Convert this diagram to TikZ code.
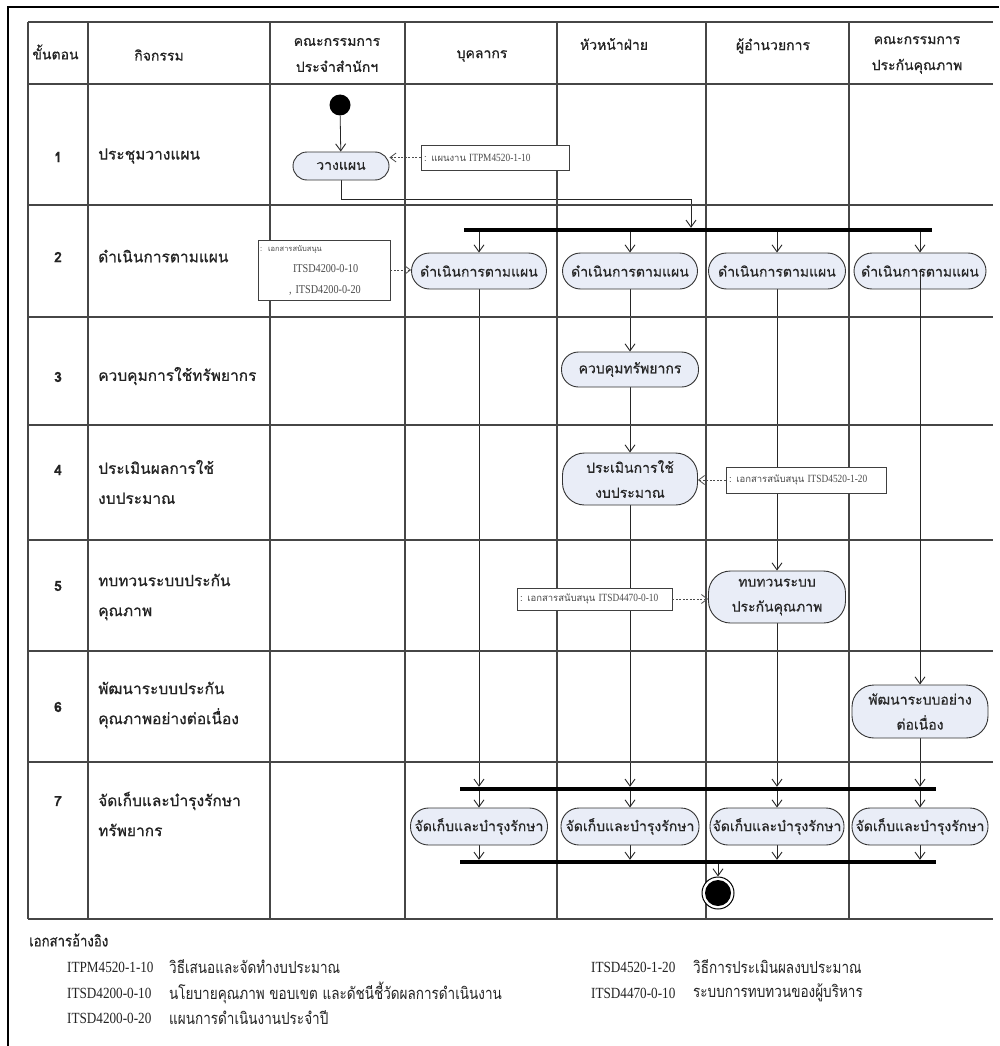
\documentclass[tikz,border=0pt]{standalone}
\usepackage{fontspec}
\setmainfont{Liberation Serif}
\newfontfamily\thai[Script=Thai,FakeBold=0.7]{Loma}
\newfontfamily\thaiact[Script=Thai,FakeBold=0.5]{Loma}
\newfontfamily\thainote[Script=Thai]{Loma}
\newfontfamily\thairef[Script=Thai,FakeStretch=0.82]{Loma}
\newfontfamily\thairefhead[Script=Thai,FakeStretch=0.85,FakeBold=0.6]{Loma}
\newfontfamily\coderef[FakeStretch=0.85]{Liberation Serif}
\usetikzlibrary{arrows.meta}
\pgfdeclarelayer{paper}
\pgfdeclarelayer{flows}
\pgfsetlayers{paper,flows,main}
\definecolor{actfill}{RGB}{233,237,247}
\definecolor{ink}{RGB}{35,35,35}
\definecolor{gridc}{RGB}{70,70,70}

\tikzset{
  gridline/.style={draw=gridc, line width=1.1pt},
  hdr/.style={font={\thai\fontsize{14}{26}\selectfont}, text=ink, align=center, inner sep=0pt},
  rowno/.style={font={\thai\bfseries\fontsize{14}{16}\selectfont}, text=ink, inner sep=0pt},
  rowtxt/.style={font={\thai\fontsize{15.5}{30}\selectfont}, text=ink, align=left, anchor=west, inner sep=0pt},
  actbox/.style={draw=black!80, fill=actfill, line width=0.9pt, rounded corners=#1,
                 font={\thaiact\fontsize{14}{25}\selectfont}, text=black!85, align=center, inner sep=0pt},
  actbox/.default=17pt,
  notebox/.style={draw=black!75, fill=white, line width=0.8pt, inner sep=0pt,
                  font={\thainote\fontsize{9.5}{10}\selectfont}, text=black!70, align=left},
  flow/.style={draw=black!85, line width=0.8pt, -{Straight Barb[length=7pt,width=10pt,line width=0.9pt]}},
  noteflow/.style={draw=black!70, line width=0.7pt, dash pattern=on 2pt off 1.5pt,
                   -{Straight Barb[length=6pt,width=9pt,line width=0.8pt]}},
  syncbar/.style={fill=black, draw=none, minimum height=4pt, inner sep=0pt},
  refhead/.style={font={\thairefhead\fontsize{15.5}{18}\selectfont}, text=ink, anchor=west, inner sep=0pt},
  refcode/.style={font={\coderef\fontsize{15.5}{18}\selectfont}, text=ink, anchor=west, inner sep=0pt},
  refdesc/.style={font={\thairef\fontsize{16.5}{18}\selectfont}, text=ink, anchor=west, inner sep=0pt},
}
\newcommand{\notecode}[1]{{\coderef\fontsize{11}{12}\selectfont #1}}

\begin{document}
\begin{tikzpicture}[x=1pt,y=-1pt]
\useasboundingbox (0,0) rectangle (999,1046);
\begin{pgfonlayer}{paper}
  \fill[white] (0,0) rectangle (999,1046);
\end{pgfonlayer}

% page frame
\draw[line width=2.6pt, black] (8,1046) -- (8,7) -- (999,7);

% swimlane table
\foreach \yy in {22,84,205,317,425,540,651,762,919}
  \draw[gridline] (28,\yy) -- (993,\yy);
\foreach \xx in {28,88,270,405,557,706,849}
  \draw[gridline] (\xx,22) -- (\xx,919);

% column headings
\node[hdr] (h0) at (55.5,52) {ขั้นตอน};
\node[hdr] (h1) at (159,55) {กิจกรรม};
\node[hdr] (h2) at (337,55) {คณะกรรมการ\\ประจำสำนักฯ};
\node[hdr] (h3) at (482,56) {บุคลากร};
\node[hdr] (h4) at (614,44) {หัวหน้าฝ่าย};
\node[hdr] (h5) at (773,46) {ผู้อำนวยการ};
\node[hdr] (h6) at (917,55) {คณะกรรมการ\\ประกันคุณภาพ};

% step numbers and activities
\node[rowno] (r1) at (58,157) {1};
\node[rowtxt] (t1) at (98,156) {ประชุมวางแผน};
\node[rowno] (r2) at (58,257) {2};
\node[rowtxt] (t2) at (98,256) {ดำเนินการตามแผน};
\node[rowno] (r3) at (58,377) {3};
\node[rowtxt] (t3) at (98,376) {ควบคุมการใช้ทรัพยากร};
\node[rowno] (r4) at (58,470) {4};
\node[rowtxt] (t4) at (98,482) {ประเมินผลการใช้\\งบประมาณ};
\node[rowno] (r5) at (58,586) {5};
\node[rowtxt] (t5) at (98,597) {ทบทวนระบบประกัน\\คุณภาพ};
\node[rowno] (r6) at (58,707) {6};
\node[rowtxt] (t6) at (98,705) {พัฒนาระบบประกัน\\คุณภาพอย่างต่อเนื่อง};
\node[rowno] (r7) at (58,801) {7};
\node[rowtxt] (t7) at (98,814) {จัดเก็บและบำรุงรักษา\\ทรัพยากร};

% initial node and planning
\node[circle, fill=black, minimum size=21pt, inner sep=0pt] (start) at (340,105) {};
\node[actbox=14pt, minimum width=96pt, minimum height=28pt] (a1) at (341,166) {วางแผน};
\node[notebox, minimum width=148pt, minimum height=25pt, text width=144pt] (n1) at (495,157.5)
  {\hspace*{1pt}: แผนงาน \notecode{ITPM4520-1-10}};

% fork
\node[syncbar, minimum width=468pt] (fork) at (698,230) {};
\coordinate (k1) at (691,199);

% carry out the plan
\node[actbox=18pt, minimum width=135pt, minimum height=36pt] (b1) at (479,271) {ดำเนินการตามแผน};
\node[actbox=18pt, minimum width=135pt, minimum height=36pt] (b2) at (630,271) {ดำเนินการตามแผน};
\node[actbox=18pt, minimum width=137pt, minimum height=36pt] (b3) at (777,271) {ดำเนินการตามแผน};
\node[actbox=18pt, minimum width=132pt, minimum height=36pt] (b4) at (920,271) {ดำเนินการตามแผน};
\node[notebox, minimum width=132pt, minimum height=60pt, text width=130pt,
      font={\coderef\fontsize{12}{21}\selectfont}] (n2) at (324,270)
  {{\thainote\fontsize{7.5}{8}\selectfont\hspace*{1pt}: เอกสารสนับสนุน}\\
   \hspace*{34pt}ITSD4200-0-10\\
   \hspace*{30pt}, ITSD4200-0-20};

% control resources and evaluate budget
\node[actbox=17pt, minimum width=137pt, minimum height=35pt] (c) at (630,369.5) {ควบคุมทรัพยากร};
\node[actbox=22pt, minimum width=135pt, minimum height=52pt] (d) at (630,479) {ประเมินการใช้\\งบประมาณ};
\node[notebox, minimum width=160pt, minimum height=26pt, text width=156pt] (n3) at (806,480)
  {\hspace*{1pt}: เอกสารสนับสนุน \notecode{ITSD4520-1-20}};

% review quality assurance
\node[actbox=22pt, minimum width=137pt, minimum height=52pt] (e) at (777,597) {ทบทวนระบบ\\ประกันคุณภาพ};
\node[notebox, minimum width=155pt, minimum height=22pt, text width=151pt] (n4) at (594.5,599)
  {\hspace*{1pt}: เอกสารสนับสนุน \notecode{ITSD4470-0-10}};

% continuous improvement
\node[actbox=22pt, minimum width=136pt, minimum height=53pt] (f) at (920,711.5) {พัฒนาระบบอย่าง\\ต่อเนื่อง};

% join, keep and maintain
\node[syncbar, minimum width=476pt] (join1) at (698,789) {};
\node[actbox=18pt, minimum width=137pt, minimum height=37pt] (g1) at (479,826.5) {จัดเก็บและบำรุงรักษา};
\node[actbox=18pt, minimum width=138pt, minimum height=37pt] (g2) at (630,826.5) {จัดเก็บและบำรุงรักษา};
\node[actbox=18pt, minimum width=134pt, minimum height=37pt] (g3) at (777,826.5) {จัดเก็บและบำรุงรักษา};
\node[actbox=18pt, minimum width=136pt, minimum height=37pt] (g4) at (920,826.5) {จัดเก็บและบำรุงรักษา};
\node[syncbar, minimum width=476pt] (join2) at (698,862) {};

% final node
\node[circle, draw=black, line width=1pt, fill=white, minimum size=32pt, inner sep=0pt] (stop) at (718,893) {};
\node[circle, fill=black, minimum size=26pt, inner sep=0pt] (stopdot) at (stop.center) {};

% control flow, kept beneath the boxes and notes
\begin{pgfonlayer}{flows}
\draw[flow] (start) -- (a1);
\draw[flow] (a1.south) |- (k1) -- (k1 |- fork.north);
\foreach \b in {b1,b2,b3,b4}
  \draw[flow] (\b.north |- fork.south) -- (\b.north);
\draw[flow] (b1.south) -- (b1.south |- join1.north);
\draw[flow] (b2.south) -- (c.north);
\draw[flow] (c.south) -- (d.north);
\draw[flow] (d.south) -- (d.south |- join1.north);
\draw[flow] (b3.south) -- (e.north);
\draw[flow] (e.south) -- (e.south |- join1.north);
\draw[flow] (f.south) -- (f.south |- join1.north);
\foreach \g in {g1,g2,g3,g4} {
  \draw[flow] (\g.north |- join1.south) -- (\g.north);
  \draw[flow] (\g.south) -- (\g.south |- join2.north);
}
\draw[flow] (stop.north |- join2.south) -- (stop.north);
\end{pgfonlayer}
\draw[flow] (b4.center) -- (f.north);

% document links
\draw[noteflow] (n1.west) -- (a1.east |- n1.west);
\draw[noteflow] (n2.east) -- (b1.west |- n2.east);
\draw[noteflow] (n3.west) -- (d.east |- n3.west);
\draw[noteflow] (n4.east) -- (e.west |- n4.east);

% reference documents
\node[refhead] (rh) at (29,940) {เอกสารอ้างอิง};
\node[refcode] (rc1) at (67,967) {ITPM4520-1-10};
\node[refdesc] (rd1) at (169,967) {วิธีเสนอและจัดทำงบประมาณ};
\node[refcode] (rc2) at (67,993) {ITSD4200-0-10};
\node[refdesc] (rd2) at (169,993) {นโยบายคุณภาพ ขอบเขต และดัชนีชี้วัดผลการดำเนินงาน};
\node[refcode] (rc3) at (67,1018) {ITSD4200-0-20};
\node[refdesc] (rd3) at (169,1018) {แผนการดำเนินงานประจำปี};
\node[refcode] (rc4) at (591,967) {ITSD4520-1-20};
\node[refdesc] (rd4) at (693,967) {วิธีการประเมินผลงบประมาณ};
\node[refcode] (rc5) at (591,993) {ITSD4470-0-10};
\node[refdesc] (rd5) at (693,993) {ระบบการทบทวนของผู้บริหาร};
\end{tikzpicture}
\end{document}
